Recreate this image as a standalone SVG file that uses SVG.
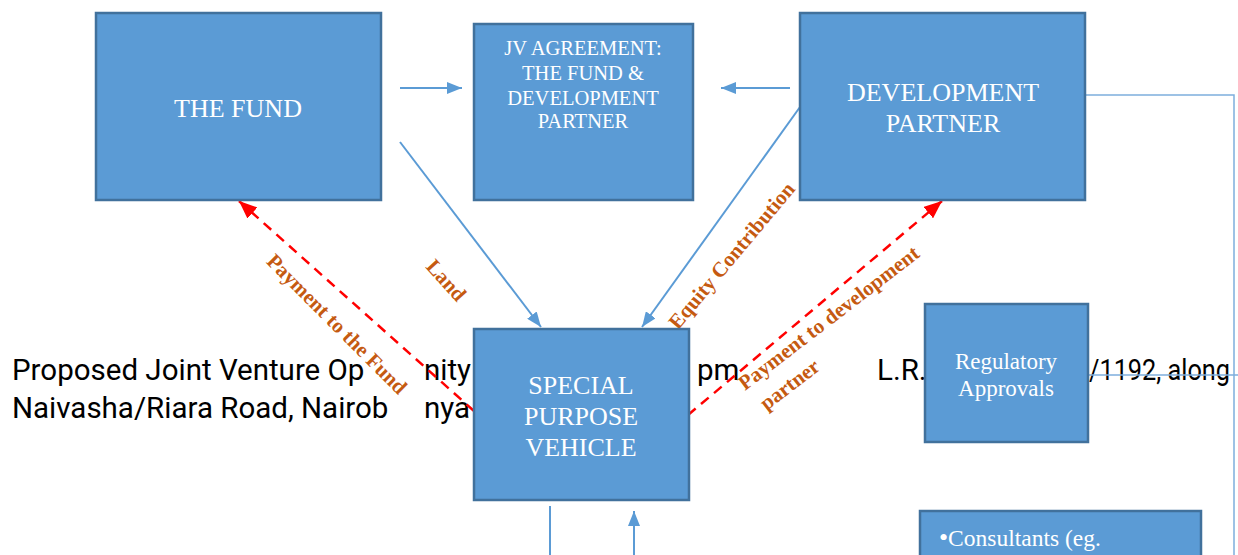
<svg xmlns="http://www.w3.org/2000/svg" width="1238" height="555" viewBox="0 0 1238 555">
<style>
.box{fill:#5B9BD5;stroke:#41719C;stroke-width:2.5}
.bt{fill:#fff;font-family:"Liberation Serif","Times New Roman",serif;text-anchor:middle}
.bl{fill:#fff;font-family:"Liberation Serif","Times New Roman",serif;text-anchor:start}
.con{stroke:#5B9BD5;stroke-width:2;fill:none}
.thin{stroke:#7EAEDD;stroke-width:1.5;fill:none}
.red{stroke:#FF0000;stroke-width:2.5;stroke-dasharray:10,7;fill:none}
.lbl{fill:#C55A11;font-family:"Liberation Serif","Times New Roman",serif;font-weight:bold;font-size:21px}
.bg{fill:#000;font-family:Roboto,"Liberation Sans",sans-serif;font-size:29.5px}
</style>
<defs>
<marker id="ab" markerUnits="userSpaceOnUse" markerWidth="15" markerHeight="12" refX="15" refY="6" orient="auto">
<path d="M0,0 L15,6 L0,12 z" fill="#5B9BD5"/>
</marker>
<marker id="ar" markerUnits="userSpaceOnUse" markerWidth="18" markerHeight="15" refX="18" refY="7.5" orient="auto">
<path d="M0,0 L18,7.5 L0,15 z" fill="#FF0000"/>
</marker>
</defs>
<rect width="1238" height="555" fill="#fff"/>

<g id="background-text" class="bg">
<text x="12" y="380">Proposed Joint Venture Op</text>
<text x="424" y="380">nity</text>
<text x="697" y="380">pm</text>
<text x="877" y="380">L.R.</text>
<text x="1089" y="380" textLength="141" lengthAdjust="spacingAndGlyphs">/1192, along</text>
<text x="12" y="418">Naivasha/Riara Road, Nairob</text>
<text x="424" y="418">nya</text>
</g>

<g id="connectors">
<line class="con" x1="400" y1="88" x2="462" y2="88" marker-end="url(#ab)"/>
<line class="con" x1="790" y1="88" x2="721" y2="88" marker-end="url(#ab)"/>
<line class="con" x1="400" y1="142" x2="541" y2="327" marker-end="url(#ab)"/>
<line class="con" x1="800" y1="107" x2="642" y2="327" marker-end="url(#ab)"/>
<line class="red" x1="474" y1="411" x2="239" y2="201" marker-end="url(#ar)"/>
<line class="red" x1="688" y1="415" x2="942" y2="201" marker-end="url(#ar)"/>
<line class="con" x1="550" y1="506" x2="550" y2="555"/>
<line class="con" x1="634" y1="555" x2="634" y2="511" marker-end="url(#ab)"/>
<polyline class="thin" points="1086,95 1234,95 1234,555"/>
<line class="thin" x1="1088" y1="375" x2="1238" y2="375"/>
</g>

<g id="labels">
<text class="lbl" text-anchor="middle" transform="translate(441,285) rotate(48)">Land</text>
<text class="lbl" text-anchor="middle" transform="translate(332,329) rotate(45)">Payment to the Fund</text>
<text class="lbl" text-anchor="middle" transform="translate(737,260) rotate(-50)">Equity Contribution</text>
<text class="lbl" transform="translate(745,391) rotate(-37.5)"><tspan x="0" y="0">Payment to development</tspan><tspan x="5" y="29">partner</tspan></text>
</g>

<g id="the-fund">
<rect class="box" x="96" y="13" width="285" height="187"/>
<text class="bt" x="238" y="117" font-size="26">THE FUND</text>
</g>

<g id="jv-agreement">
<rect class="box" x="474" y="24" width="219" height="176"/>
<text class="bt" font-size="20.5"><tspan x="583" y="55">JV AGREEMENT:</tspan><tspan x="583" y="80">THE FUND &amp;</tspan><tspan x="583" y="105">DEVELOPMENT</tspan><tspan x="583" y="128">PARTNER</tspan></text>
</g>

<g id="development-partner">
<rect class="box" x="800" y="13" width="285" height="187"/>
<text class="bt" font-size="26"><tspan x="943" y="101">DEVELOPMENT</tspan><tspan x="943" y="132">PARTNER</tspan></text>
</g>

<g id="spv">
<rect class="box" x="474" y="329" width="215" height="171"/>
<text class="bt" font-size="26"><tspan x="581" y="394">SPECIAL</tspan><tspan x="581" y="425">PURPOSE</tspan><tspan x="581" y="456">VEHICLE</tspan></text>
</g>

<g id="regulatory-approvals">
<rect class="box" x="925" y="304" width="163" height="138"/>
<text class="bt" font-size="23"><tspan x="1006" y="369">Regulatory</tspan><tspan x="1006" y="396">Approvals</tspan></text>
</g>

<g id="consultants">
<rect class="box" x="920" y="511" width="281" height="60"/>
<text class="bl" font-size="23.5" x="939" y="546"><tspan font-size="26">•</tspan>Consultants (eg.</text>
</g>
</svg>
